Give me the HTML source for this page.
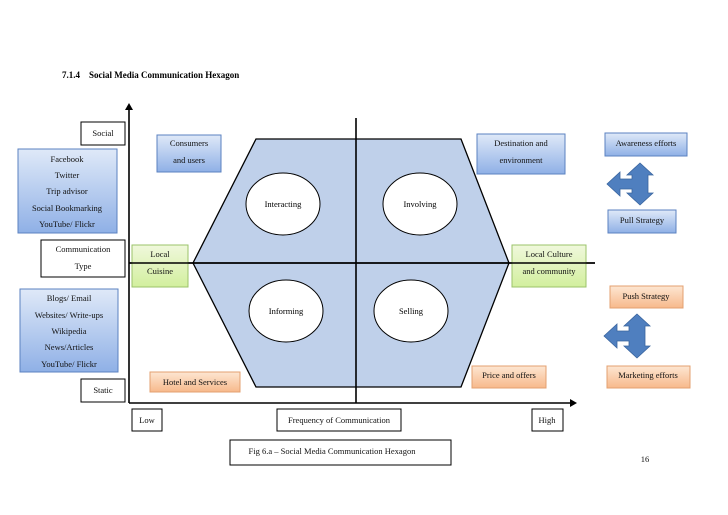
<!DOCTYPE html>
<html><head><meta charset="utf-8"><style>
body{margin:0;background:#fff;}
svg{display:block;font-family:"Liberation Serif",serif;}
</style></head><body>
<svg width="728" height="515" viewBox="0 0 728 515" xmlns="http://www.w3.org/2000/svg">
<defs>
<linearGradient id="bl" x1="0" y1="0" x2="0" y2="1"><stop offset="0" stop-color="#dfe9f8"/><stop offset="1" stop-color="#8fb0e6"/></linearGradient>
<linearGradient id="gr" x1="0" y1="0" x2="0" y2="1"><stop offset="0" stop-color="#f0f8dc"/><stop offset="1" stop-color="#d2ef9e"/></linearGradient>
<linearGradient id="or" x1="0" y1="0" x2="0" y2="1"><stop offset="0" stop-color="#fde6d2"/><stop offset="1" stop-color="#f7b98b"/></linearGradient>
</defs>
<text x="62" y="78" font-size="9" font-weight="bold">7.1.4&#160;&#160;&#160;&#160;Social Media Communication Hexagon</text>

<polygon points="256,139 461,139 509,263 461,387 256,387 193,263" fill="#bfd0ea" stroke="#000" stroke-width="1.3"/>
<ellipse cx="283" cy="204" rx="37" ry="31" fill="#fff" stroke="#000"/>
<ellipse cx="420" cy="204" rx="37" ry="31" fill="#fff" stroke="#000"/>
<ellipse cx="286" cy="311" rx="37" ry="31" fill="#fff" stroke="#000"/>
<ellipse cx="411" cy="311" rx="37" ry="31" fill="#fff" stroke="#000"/>
<g font-size="8.5" text-anchor="middle">
<text x="283" y="207">Interacting</text><text x="420" y="207">Involving</text>
<text x="286" y="314">Informing</text><text x="411" y="314">Selling</text>
</g>
<g stroke="#000" stroke-width="1.6" fill="none">
<line x1="129" y1="108" x2="129" y2="403"/>
<line x1="129" y1="403" x2="572" y2="403"/>
<line x1="356" y1="118" x2="356" y2="403"/>
<line x1="129" y1="263" x2="595" y2="263"/>
</g>
<polygon points="125,110 129,103 133,110" fill="#000"/>
<polygon points="570,399 577,403 570,407" fill="#000"/>

<g stroke="#000" stroke-width="1" fill="#fff">
<rect x="81" y="122" width="44" height="23"/>
<rect x="41" y="240" width="84" height="37"/>
<rect x="81" y="379" width="44" height="23"/>
<rect x="132" y="409" width="30" height="22"/>
<rect x="277" y="409" width="124" height="22"/>
<rect x="532" y="409" width="31" height="22"/>
<rect x="230" y="440" width="221" height="25"/>
</g>
<g stroke="#5b82c0" stroke-width="1" fill="url(#bl)">
<rect x="18" y="149" width="99" height="84"/>
<rect x="20" y="289" width="98" height="83"/>
<rect x="157" y="135" width="64" height="37"/>
<rect x="477" y="134" width="88" height="40"/>
<rect x="605" y="133" width="82" height="23"/>
<rect x="608" y="210" width="68" height="23"/>
</g>
<g stroke="#9bc36a" stroke-width="1" fill="url(#gr)">
<rect x="132" y="245" width="56" height="42"/>
<rect x="512" y="245" width="74" height="42"/>
</g>
<g stroke="#e3a070" stroke-width="1" fill="url(#or)">
<rect x="150" y="372" width="90" height="20"/>
<rect x="472" y="366" width="74" height="22"/>
<rect x="610" y="286" width="73" height="22"/>
<rect x="607" y="366" width="83" height="22"/>
</g>
<line x1="129" y1="263" x2="595" y2="263" stroke="#000" stroke-width="1.6"/>

<g font-size="8.5" text-anchor="middle" fill="#111">
<text x="103" y="136">Social</text>
<text x="83" y="252">Communication</text><text x="83" y="269">Type</text>
<text x="103" y="393">Static</text>
<text x="147" y="423">Low</text>
<text x="339" y="423">Frequency of Communication</text>
<text x="547" y="423">High</text>
<text x="332" y="454">Fig 6.a – Social Media Communication Hexagon</text>
<text x="67" y="162">Facebook</text><text x="67" y="178">Twitter</text><text x="67" y="194">Trip advisor</text><text x="67" y="211">Social Bookmarking</text><text x="67" y="227">YouTube/ Flickr</text>
<text x="69" y="301">Blogs/ Email</text><text x="69" y="318">Websites/ Write-ups</text><text x="69" y="334">Wikipedia</text><text x="69" y="350">News/Articles</text><text x="69" y="367">YouTube/ Flickr</text>
<text x="189" y="146">Consumers</text><text x="189" y="163">and users</text>
<text x="521" y="146">Destination and</text><text x="521" y="163">environment</text>
<text x="646" y="146">Awareness efforts</text>
<text x="642" y="223">Pull Strategy</text>
<text x="160" y="257">Local</text><text x="160" y="274">Cuisine</text>
<text x="549" y="257">Local Culture</text><text x="549" y="274">and community</text>
<text x="195" y="385">Hotel and Services</text>
<text x="509" y="378">Price and offers</text>
<text x="646" y="299">Push Strategy</text>
<text x="648" y="378">Marketing efforts</text>
<text x="645" y="462">16</text>
</g>

<g fill="#4f7fbf" stroke="#3a659f" stroke-width="0.8">
<path d="M640,163 L653,175 L648,175 L648,193 L653,193 L640,205 L627,193 L632,193 L632,189 L620,189 L620,196 L607,184 L620,172 L620,179 L632,179 L632,175 L627,175 Z"/>
<path d="M637,314 L650,326 L645,326 L645,346 L650,346 L637,358 L624,346 L629,346 L629,341 L617,341 L617,348 L604,336 L617,324 L617,331 L629,331 L629,326 L624,326 Z"/>
</g>
</svg>
</body></html>
